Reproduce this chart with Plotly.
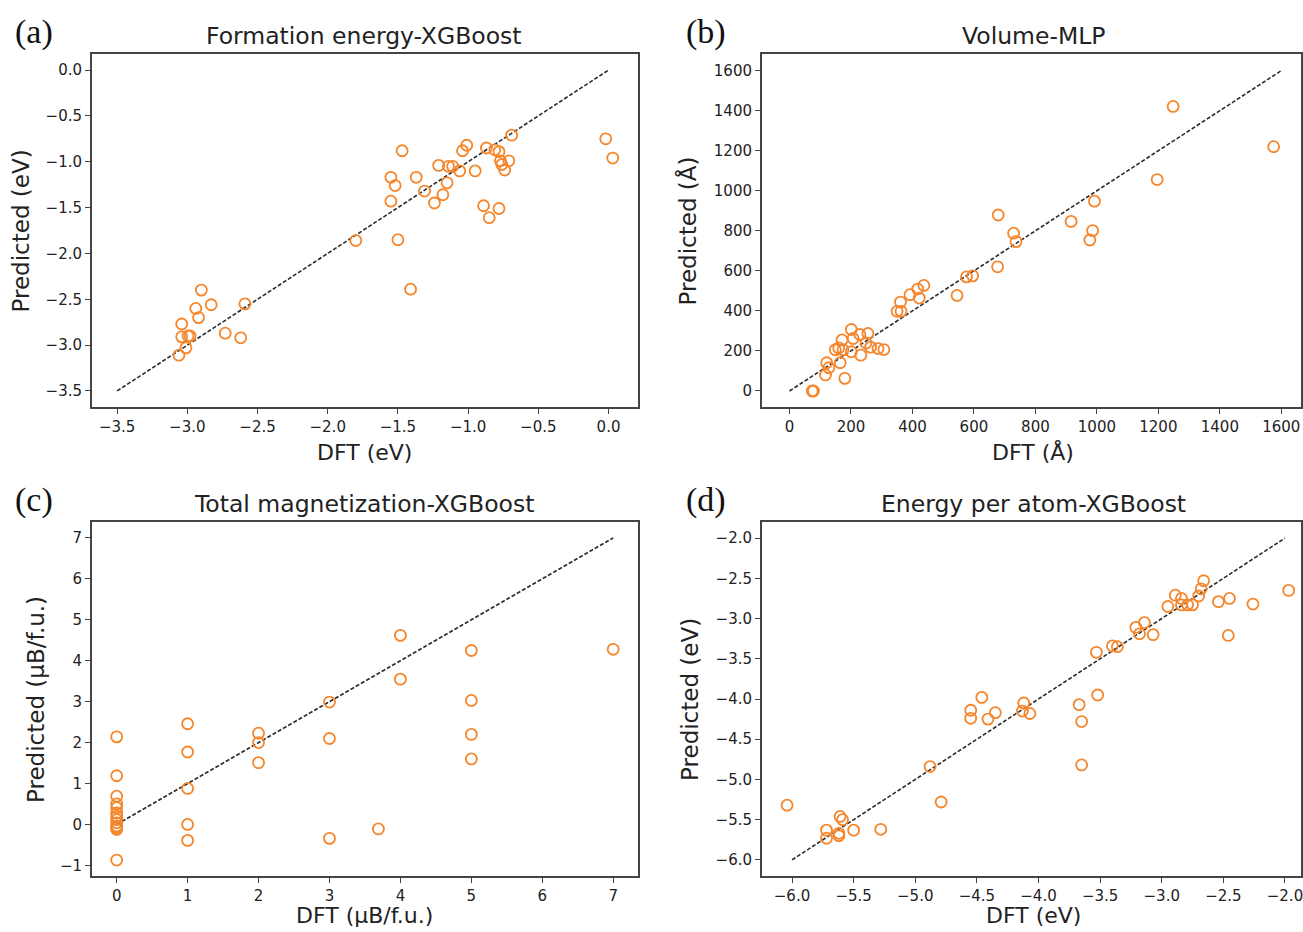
import plotly.graph_objects as go

W, H = 1303, 932

# ---------------- data ----------------
# (a) Formation energy - XGBoost (eV)
a_dft = [-0.02, 0.03, -0.69, -1.01, -1.04, -0.87, -0.81, -0.78, -0.77, -0.76, -0.74, -0.71,
         -0.95, -1.06, -1.11, -1.14, -1.21, -1.47, -1.37, -1.55, -1.52, -1.31, -1.15, -1.18,
         -1.24, -1.55, -0.89, -0.78, -0.85, -1.80, -1.50, -1.41, -2.90, -2.94, -2.83, -2.92,
         -2.59, -3.04, -3.04, -2.995, -2.98, -3.01, -3.06, -2.73, -2.62]
a_pred = [-0.75, -0.96, -0.71, -0.82, -0.88, -0.85, -0.87, -0.89, -0.99, -1.03, -1.09, -0.99,
          -1.10, -1.10, -1.05, -1.05, -1.04, -0.88, -1.17, -1.17, -1.26, -1.32, -1.23, -1.36,
          -1.45, -1.43, -1.48, -1.51, -1.61, -1.86, -1.85, -2.39, -2.40, -2.60, -2.56, -2.70,
          -2.55, -2.77, -2.91, -2.90, -2.90, -3.03, -3.11, -2.87, -2.92]
a_line = [-3.5, 0.0]

# (b) Volume - MLP (Å)
b_dft = [1248, 1575, 1196, 992, 916, 986, 977, 679, 729, 737, 677, 576, 596, 545, 437, 417,
         392, 422, 361, 350, 363, 201, 229, 255, 207, 171, 249, 264, 288, 307, 149, 174, 201,
         232, 121, 165, 128, 117, 180, 74, 78, 160]
b_pred = [1421, 1220, 1056, 948, 847, 801, 754, 879, 788, 746, 620, 570, 575, 477, 527, 509,
          481, 464, 444, 398, 398, 307, 282, 287, 262, 255, 240, 219, 212, 207, 206, 206, 196,
          179, 141, 141, 116, 80, 63, 0, 0, 215]
b_line = [0, 1600]

# (c) Total magnetization - XGBoost (μB/f.u.)
c_dft = [0, 0, 0, 0, 0, 0, 0, 0, 0, 0, 0, 0, 0,
         1, 1, 1, 1, 1,
         2, 2, 2,
         3, 3, 3,
         3.69,
         4, 4,
         5, 5, 5, 5,
         7]
c_pred = [2.14, 1.19, 0.69, 0.50, 0.41, 0.28, 0.20, 0.12, 0.04, -0.04, -0.08, -0.12, -0.87,
          2.46, 1.77, 0.88, 0.00, -0.39,
          2.23, 2.00, 1.51,
          2.99, 2.10, -0.34,
          -0.11,
          4.62, 3.55,
          4.25, 3.03, 2.20, 1.60,
          4.28]
c_line = [0, 7]

# (d) Energy per atom - XGBoost (eV)
d_dft = [-6.04, -5.72, -5.72, -5.61, -5.59, -5.62, -5.62, -5.50, -5.28, -4.88, -4.79, -4.55,
         -4.55, -4.46, -4.41, -4.35, -4.12, -4.13, -4.07, -3.67, -3.65, -3.65, -3.52, -3.53,
         -3.40, -3.36, -3.21, -3.18, -3.14, -3.07, -2.95, -2.89, -2.84, -2.84, -2.79, -2.75,
         -2.70, -2.68, -2.66, -2.54, -2.45, -2.46, -2.26, -1.97]
d_pred = [-5.32, -5.63, -5.73, -5.46, -5.50, -5.67, -5.70, -5.63, -5.62, -4.84, -5.28, -4.14,
          -4.24, -3.98, -4.25, -4.17, -4.05, -4.15, -4.18, -4.07, -4.28, -4.82, -3.95, -3.42,
          -3.34, -3.35, -3.11, -3.19, -3.05, -3.20, -2.85, -2.71, -2.75, -2.83, -2.83, -2.83,
          -2.72, -2.63, -2.53, -2.79, -2.75, -3.21, -2.82, -2.65]
d_line = [-6.0, -2.0]

titles = ["Formation energy-XGBoost", "Volume-MLP",
          "Total magnetization-XGBoost", "Energy per atom-XGBoost"]
panel_tags = ["(a)", "(b)", "(c)", "(d)"]
x_titles = ["DFT (eV)", "DFT (Å)", "DFT (μB/f.u.)", "DFT (eV)"]
y_titles = ["Predicted (eV)", "Predicted (Å)", "Predicted (μB/f.u.)", "Predicted (eV)"]

# ---------------- layout geometry (pixels) ----------------
def px(p):
    return p / W

def py(p):
    return 1 - p / H

boxes = [  # left, right, top, bottom in pixels
    (92, 639, 54, 407),
    (763, 1303, 54, 407),
    (92, 639, 522, 876),
    (763, 1303, 522, 876),
]
x_ranges = [[-3.68, 0.21], [-90, 1664], [-0.35, 7.35], [-6.245, -1.87]]
y_ranges = [[-3.675, 0.175], [-80, 1683], [-1.26, 7.39], [-6.2, -1.8]]
x_dticks = [0.5, 200, 1, 0.5]
y_dticks = [0.5, 200, 1, 0.5]
x_fmt = [".1f", "d", "d", ".1f"]
y_fmt = [".1f", "d", "d", ".1f"]
ytitle_x = [21, 689, 36, 691]
tag_x = [13, 685, 13, 685]
title_cx = [365, 1035, 365, 1035]
xtitle_y = [452, 452, 915, 915]

ORANGE = "#f5862b"
AX = "#444444"
TXT = "#222222"

fig = go.Figure()
data = [(a_dft, a_pred, a_line), (b_dft, b_pred, b_line),
        (c_dft, c_pred, c_line), (d_dft, d_pred, d_line)]

annotations = []
for i, (xs, ys, line) in enumerate(data):
    k = "" if i == 0 else str(i + 1)
    xa, ya = "x" + k, "y" + k
    fig.add_trace(go.Scatter(x=line, y=line, mode="lines", xaxis=xa, yaxis=ya,
                             line=dict(color="#2b2b2b", width=1.6, dash="4px,2px"),
                             showlegend=False, hoverinfo="skip"))
    fig.add_trace(go.Scatter(x=xs, y=ys, mode="markers", xaxis=xa, yaxis=ya,
                             marker=dict(symbol="circle-open", size=11, color=ORANGE,
                                         line=dict(width=1.8, color=ORANGE)),
                             showlegend=False))
    l, r, t, b = boxes[i]
    axis_common = dict(showgrid=False, zeroline=False, showline=True, mirror=True,
                       linecolor=AX, linewidth=1.6, ticks="outside", ticklen=5,
                       tickwidth=1.2, tickcolor=AX, ticklabeloverflow="allow",
                       tickfont=dict(family="DejaVu Sans", size=15, color=TXT))
    fig.update_layout(**{
        "xaxis" + k: dict(domain=[px(l), px(r)], range=x_ranges[i], dtick=x_dticks[i],
                          tick0=0, tickformat=x_fmt[i], anchor=ya, **axis_common),
        "yaxis" + k: dict(domain=[py(b), py(t)], range=y_ranges[i], dtick=y_dticks[i],
                          tick0=0, tickformat=y_fmt[i], anchor=xa, **axis_common),
    })
    # title
    annotations.append(dict(text=titles[i], x=px(title_cx[i]), y=py(t - 18),
                            xref="paper", yref="paper",
                            showarrow=False, xanchor="center", yanchor="middle",
                            font=dict(family="DejaVu Sans", size=23.5, color=TXT)))
    # panel tag
    annotations.append(dict(text=panel_tags[i], x=px(tag_x[i]), y=py(t - 22),
                            xref="paper", yref="paper", showarrow=False,
                            xanchor="left", yanchor="middle",
                            font=dict(family="Liberation Serif", size=34, color="#111111")))
    # x axis title
    annotations.append(dict(text=x_titles[i], x=px(title_cx[i]),
                            y=py(xtitle_y[i]), xref="paper", yref="paper", showarrow=False,
                            xanchor="center", yanchor="middle",
                            font=dict(family="DejaVu Sans", size=22, color=TXT)))
    # y axis title
    annotations.append(dict(text=y_titles[i], x=px(ytitle_x[i]), y=py((t + b) / 2),
                            xref="paper", yref="paper", showarrow=False, textangle=-90,
                            xanchor="center", yanchor="middle",
                            font=dict(family="DejaVu Sans", size=23, color=TXT)))

fig.update_layout(width=W, height=H, margin=dict(l=0, r=0, t=0, b=0),
                  paper_bgcolor="white", plot_bgcolor="white",
                  annotations=annotations, showlegend=False)

fig.write_html("out.html")
